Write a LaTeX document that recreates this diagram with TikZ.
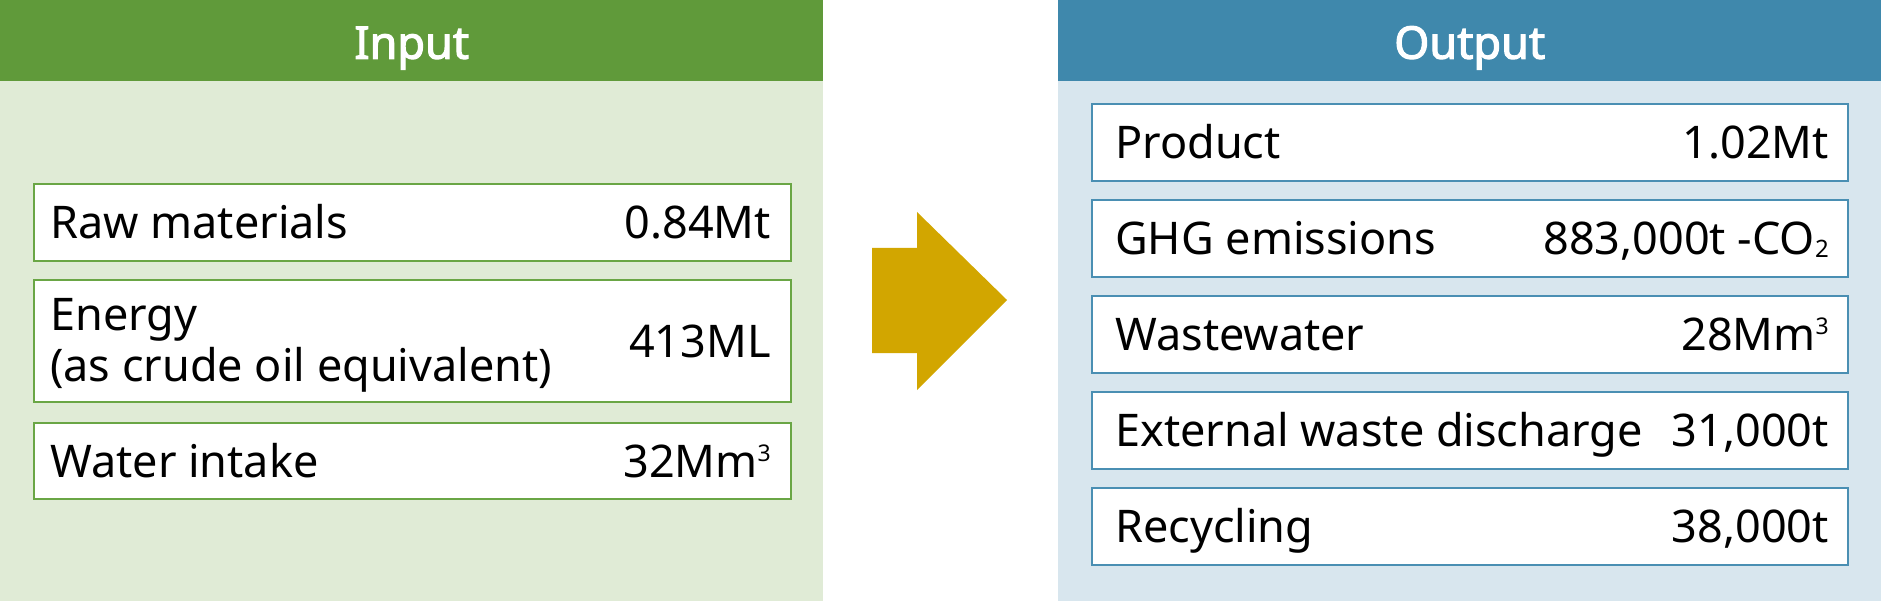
\documentclass[tikz,border=0pt]{standalone}
\usepackage{fontspec}
\setmainfont{Noto Sans}
\newfontfamily\titlefont{Noto Sans}[AutoFakeBold=2.5]
\usetikzlibrary{positioning}

\definecolor{inhead}{HTML}{609A3A}
\definecolor{inbg}{HTML}{E0EBD6}
\definecolor{inline}{HTML}{6AA645}
\definecolor{outhead}{HTML}{3F88AC}
\definecolor{outbg}{HTML}{D8E6EE}
\definecolor{outline}{HTML}{4A8FB3}
\definecolor{gold}{HTML}{D2A600}

\newcommand{\supnum}[1]{\raisebox{16pt}{\fontsize{23}{23}\selectfont #1}}
\newcommand{\subnum}[1]{\raisebox{-3pt}{\fontsize{24}{24}\selectfont #1}}

\begin{document}
\begin{tikzpicture}[
  x=1pt, y=-1pt,
  txt/.style    = {font=\fontsize{45}{51}\selectfont, inner sep=0pt,
                   text height=32pt, text depth=0pt},
  panel/.style  = {anchor=north west, inner sep=0pt, minimum width=823pt,
                   minimum height=601pt},
  head/.style   = {anchor=north west, inner sep=0pt, minimum width=823pt,
                   minimum height=81pt},
  title/.style  = {txt, text=white, font=\titlefont\bfseries\fontsize{45}{51}\selectfont},
  row/.style    = {anchor=north west, inner sep=0pt, fill=white,
                   line width=2pt, minimum height=77pt},
  inrow/.style  = {row, draw=inline, minimum width=757pt},
  outrow/.style = {row, draw=outline, minimum width=756pt},
  lbl/.style    = {txt, anchor=west},
  val/.style    = {txt, anchor=east},
]
\useasboundingbox (0,0) rectangle (1881,601);

% panels
\node[panel, fill=inbg]  (inpanel)  at (0,0) {};
\node[head, fill=inhead] (inhdr)    at (0,0) {};
\node[title] at ([yshift=-2pt]inhdr.center) {Input};

\node[panel, fill=outbg, minimum width=823pt]  (outpanel) at (1058,0) {};
\node[head, fill=outhead] (outhdr) at (1058,0) {};
\node[title] at ([yshift=-2pt]outhdr.center) {Output};

% input rows
\node[inrow] (raw)    at (33,183) {};
\node[inrow, minimum height=122pt] (energy) at (33,279) {};
\node[inrow, minimum height=76pt]  (water)  at (33,422) {};

\node[lbl] at ([xshift=17pt]raw.west) {Raw materials};
\node[val] at ([xshift=-21pt]raw.east) {0.84Mt};
\node[lbl, text height=, text depth=, align=left, yshift=-4pt]
     at ([xshift=17pt]energy.west) {Energy\\(as crude oil equivalent)};
\node[val] at ([xshift=-21pt]energy.east) {413ML};
\node[lbl] at ([xshift=17pt]water.west) {Water intake};
\node[val] at ([xshift=-21pt]water.east) {32Mm\supnum{3}};

% arrow
\fill[gold] (872,248) -- (917,248) -- (917,212) -- (1007,300)
            -- (917,390) -- (917,353) -- (872,353) -- cycle;

% output rows
\node[outrow] (prod)  at (1091,103) {};
\node[outrow] (ghg)   at (1091,199) {};
\node[outrow] (waste) at (1091,295) {};
\node[outrow] (ext)   at (1091,391) {};
\node[outrow] (recyc) at (1091,487) {};

\node[lbl] at ([xshift=24pt]prod.west)  {Product};
\node[val] at ([xshift=-20pt]prod.east) {1.02Mt};
\node[lbl] at ([xshift=24pt]ghg.west)   {GHG emissions};
\node[val] at ([xshift=-20pt]ghg.east)  {883,000t -CO\subnum{2}};
\node[lbl] at ([xshift=24pt]waste.west) {Wastewater};
\node[val] at ([xshift=-20pt]waste.east) {28Mm\supnum{3}};
\node[lbl] at ([xshift=24pt]ext.west)   {External waste discharge};
\node[val] at ([xshift=-20pt]ext.east)  {31,000t};
\node[lbl] at ([xshift=24pt]recyc.west) {Recycling};
\node[val] at ([xshift=-20pt]recyc.east) {38,000t};

\end{tikzpicture}
\end{document}
